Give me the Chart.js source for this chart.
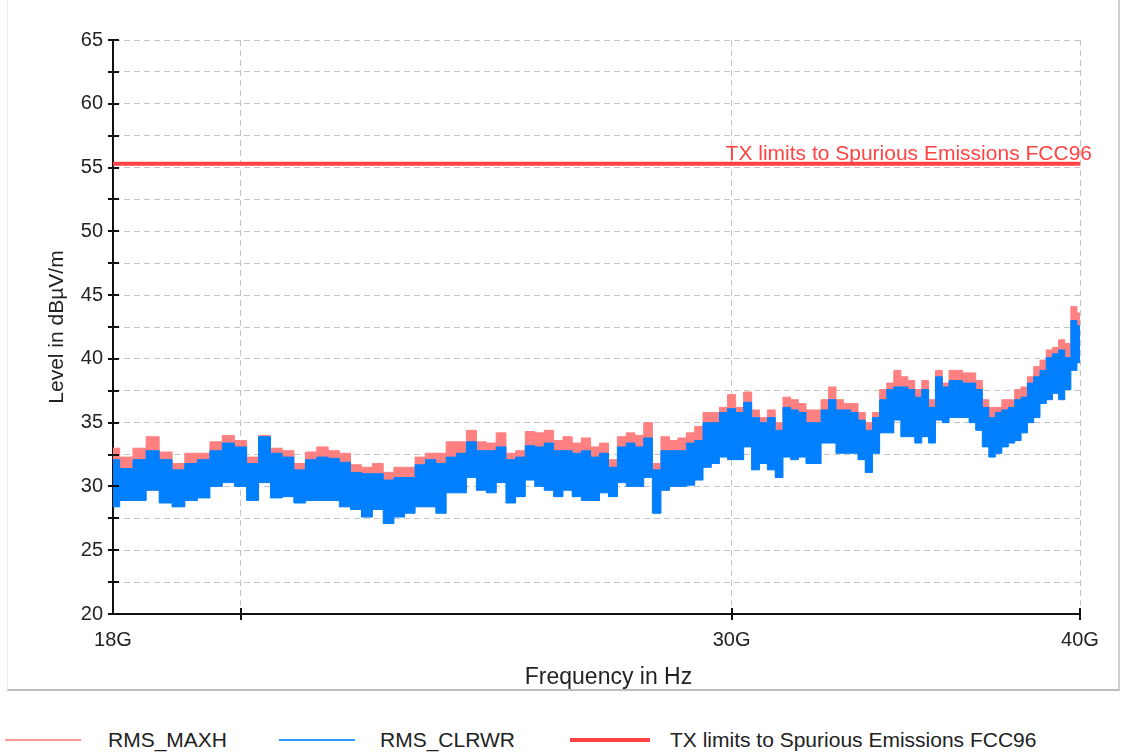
<!DOCTYPE html>
<html>
<head>
<meta charset="utf-8">
<script src="https://cdn.jsdelivr.net/npm/chart.js@4.4.0/dist/chart.umd.min.js"></script>
<style>
  body { margin: 0; background: #fff; width: 1121px; height: 756px; overflow: hidden;
         font-family: "Liberation Sans", Arial, sans-serif; }
  #panel { position: absolute; left: 7px; top: -4px; width: 1110px; height: 693px;
           border-left: 1px solid #ececec; border-right: 2px solid #cfcfcf; border-bottom: 2px solid #bdbdbd; }
  #wrap { position: absolute; left: 0; top: 0; width: 1121px; height: 690px; }
  #legend { position: absolute; left: 0; top: 722px; width: 1121px; height: 36px; }
  .ln { position: absolute; }
  .tx { position: absolute; top: 0; font-size: 21px; line-height: 36px; color: #222; white-space: nowrap; }
</style>
</head>
<body>
<div id="panel"></div>
<div id="wrap"><canvas id="emi-chart" width="1121" height="690"></canvas></div>
<div id="legend"></div>
<script>
// frequency in GHz, levels in dBµV/m
const freqGHz = [18.0, 18.2, 18.4, 18.6, 18.8, 19.0, 19.2, 19.4, 19.6, 19.8,
  20.0, 20.2, 20.4, 20.6, 20.8, 21.0, 21.2, 21.4, 21.6, 21.8,
  22.0, 22.2, 22.4, 22.6, 22.8, 23.0, 23.2, 23.4, 23.6, 23.8,
  24.0, 24.2, 24.4, 24.6, 24.8, 25.0, 25.2, 25.4, 25.6, 25.8,
  26.0, 26.2, 26.4, 26.6, 26.8, 27.0, 27.2, 27.4, 27.6, 27.8,
  28.0, 28.2, 28.4, 28.6, 28.8, 29.0, 29.2, 29.4, 29.6, 29.8,
  30.0, 30.2, 30.4, 30.6, 30.8, 31.0, 31.2, 31.4, 31.6, 31.8,
  32.0, 32.2, 32.4, 32.6, 32.8, 33.0, 33.2, 33.4, 33.6, 33.8,
  34.0, 34.2, 34.4, 34.6, 34.8, 35.0, 35.2, 35.4, 35.6, 35.8,
  36.0, 36.2, 36.4, 36.6, 36.8, 37.0, 37.2, 37.4, 37.6, 37.8,
  38.0, 38.2, 38.4, 38.6, 38.8, 39.0, 39.2, 39.4, 39.6, 39.8, 40.0];

const rmsMaxh = [33.0, 32.3, 33.0, 33.9, 32.7, 31.8, 32.6, 32.6, 33.5, 34.0,
  33.6, 32.3, 34.0, 33.0, 32.8, 31.8, 32.7, 33.1, 32.8, 32.6,
  31.7, 31.5, 31.8, 31.1, 31.5, 31.5, 32.3, 32.6, 32.6, 33.5,
  33.5, 34.4, 33.5, 33.4, 34.2, 32.6, 32.8, 34.3, 34.2, 34.4,
  33.6, 33.9, 33.4, 33.8, 33.1, 33.4, 32.1, 33.9, 34.2, 34.0,
  35.0, 31.8, 33.9, 33.6, 33.8, 34.2, 34.7, 35.8, 35.8, 36.2,
  37.2, 36.2, 37.4, 36.0, 35.4, 36.0, 35.0, 37.0, 36.8, 36.5,
  36.0, 36.0, 36.8, 37.8, 36.8, 36.5, 36.5, 35.8, 35.0, 35.8,
  37.6, 38.1, 39.1, 38.6, 38.3, 37.6, 38.3, 36.8, 39.1, 38.1,
  39.1, 39.1, 38.9, 38.9, 38.3, 36.8, 36.2, 36.2, 36.8, 36.8,
  37.6, 37.8, 38.6, 39.4, 39.9, 40.7, 40.9, 41.5, 41.2, 44.1, 43.6];

const rmsClrwrHigh = [32.1, 31.4, 32.1, 32.8, 32.1, 31.3, 31.8, 32.1, 32.8, 33.4,
  33.1, 31.8, 33.9, 32.6, 32.3, 31.3, 32.1, 32.3, 32.2, 31.9,
  31.1, 31.0, 31.0, 30.5, 30.7, 30.7, 31.7, 32.1, 31.8, 32.3,
  32.6, 33.5, 32.8, 32.8, 33.1, 32.1, 32.3, 33.2, 33.1, 33.4,
  32.8, 32.8, 32.6, 32.8, 32.3, 32.6, 31.5, 33.1, 33.4, 33.1,
  33.8, 31.3, 32.8, 32.8, 32.8, 33.4, 33.6, 35.0, 35.0, 35.8,
  36.1, 35.8, 36.6, 35.4, 35.0, 35.4, 34.4, 36.2, 36.0, 35.8,
  35.0, 35.0, 36.0, 36.8, 36.0, 36.0, 35.8, 35.2, 34.4, 35.4,
  36.8, 37.6, 37.8, 37.8, 37.6, 37.0, 37.6, 36.2, 38.6, 37.8,
  38.3, 38.3, 38.1, 38.1, 37.6, 36.2, 35.4, 35.8, 36.0, 36.2,
  36.8, 37.0, 38.1, 38.6, 39.1, 40.1, 40.4, 40.7, 40.1, 43.0, 42.6];

const rmsClrwrLow = [28.4, 28.9, 28.9, 29.7, 28.7, 28.4, 28.9, 29.1, 30.0, 30.3,
  30.0, 28.9, 30.3, 29.1, 29.2, 28.7, 28.9, 28.9, 28.9, 28.4,
  28.2, 27.6, 28.2, 27.1, 27.6, 27.9, 28.4, 28.4, 27.9, 29.5,
  29.5, 30.7, 29.7, 29.5, 30.3, 28.7, 29.2, 30.5, 30.0, 29.7,
  29.2, 29.7, 29.2, 28.9, 28.9, 29.5, 29.2, 30.3, 30.0, 30.0,
  30.7, 27.9, 29.7, 30.0, 30.0, 30.1, 30.5, 31.5, 31.8, 32.3,
  32.1, 32.1, 33.1, 31.3, 31.8, 31.3, 30.7, 32.3, 32.1, 32.3,
  31.8, 31.8, 33.4, 33.4, 32.6, 32.6, 32.6, 32.1, 31.1, 32.6,
  34.2, 34.2, 35.2, 33.9, 33.9, 33.4, 33.9, 33.4, 35.2, 35.0,
  35.4, 35.4, 35.4, 35.0, 34.4, 33.1, 32.3, 32.6, 33.1, 33.4,
  33.6, 34.2, 35.0, 35.4, 36.5, 36.8, 37.3, 36.8, 37.6, 39.1, 39.7];

const limitFreq = [18, 40];
const limitLevel = [55.3, 55.3];
const limitName = 'TX limits to Spurious Emissions FCC96';

const xTickValues = [18, 20, 30, 40];
const xTickLabels = ['18G', '', '30G', '40G'];
const yTickValues = [20, 22.5, 25, 27.5, 30, 32.5, 35, 37.5, 40, 42.5, 45, 47.5, 50, 52.5, 55, 57.5, 60, 62.5, 65];
const yTickLabels = ['20', '', '25', '', '30', '', '35', '', '40', '', '45', '', '50', '', '55', '', '60', '', '65'];
const xTitle = 'Frequency in Hz';

const pink = '#ff8080';
const blue = '#0080ff';
const red = '#ff4343';
const fontFamily = '"Liberation Sans", Arial, sans-serif';

const pts = (xs, ys) => xs.map((x, i) => ({ x: x, y: ys[i] }));

// black tick marks crossing both axes, plus the x axis title
const axisTicks = {
    id: 'axisTicks',
    afterDatasetsDraw(chart) {
        const { ctx, chartArea, scales: { x, y } } = chart;
        ctx.save();
        ctx.strokeStyle = '#111';
        ctx.lineWidth = 2;
        ctx.beginPath();
        yTickValues.forEach(v => {
            const py = Math.round(y.getPixelForValue(v));
            ctx.moveTo(chartArea.left - 5, py);
            ctx.lineTo(chartArea.left + 6, py);
        });
        xTickValues.slice(1).forEach(v => {
            const px = Math.round(x.getPixelForValue(v));
            ctx.moveTo(px, chartArea.bottom - 6);
            ctx.lineTo(px, chartArea.bottom + 6);
        });
        ctx.stroke();
        ctx.font = '23px ' + fontFamily;
        ctx.fillStyle = '#222';
        ctx.textAlign = 'center';
        ctx.textBaseline = 'middle';
        ctx.fillText(xTitle, (chartArea.left + chartArea.right) / 2 + 12, chartArea.bottom + 64);
        ctx.restore();
    }
};

// name of the limit line, written above its right end
const limitLabel = {
    id: 'limitLabel',
    afterDatasetsDraw(chart) {
        const { ctx, scales: { x, y } } = chart;
        ctx.save();
        ctx.font = '21px ' + fontFamily;
        ctx.fillStyle = red;
        ctx.textAlign = 'right';
        ctx.textBaseline = 'alphabetic';
        ctx.fillText(limitName, x.getPixelForValue(limitFreq[1]) + 12, y.getPixelForValue(limitLevel[1]) - 4);
        ctx.restore();
    }
};

const emi_chart = new Chart(
    document.getElementById('emi-chart').getContext('2d'), {
    type: 'line',
    data: {
        datasets: [{
            label: 'RMS_MAXH',
            data: pts(freqGHz, rmsMaxh),
            borderColor: pink,
            backgroundColor: pink,
            borderWidth: 1,
            stepped: 'middle',
            fill: 3,
            order: 3,
        },
        {
            label: 'RMS_CLRWR',
            data: pts(freqGHz, rmsClrwrHigh),
            borderColor: blue,
            backgroundColor: blue,
            borderWidth: 1,
            stepped: 'middle',
            fill: 3,
            order: 1,
        },
        {
            label: limitName,
            data: pts(limitFreq, limitLevel),
            borderColor: red,
            borderWidth: 4,
            fill: false,
            order: 0,
        },
        {
            // lower edge of the RMS_CLRWR trace
            label: '',
            data: pts(freqGHz, rmsClrwrLow),
            borderColor: blue,
            borderWidth: 1,
            stepped: 'middle',
            fill: false,
            order: 2,
        }]
    },
    options: {
        responsive: false,
        animation: false,
        layout: { padding: { left: 0, top: 40, right: 41, bottom: 0 } },
        elements: { point: { radius: 0 } },
        plugins: {
            legend: { display: false },
            tooltip: { enabled: false }
        },
        scales: {
            x: {
                type: 'logarithmic',
                min: 18,
                max: 40,
                afterBuildTicks: (s) => { s.ticks = xTickValues.map(v => ({ value: v })); },
                afterFit: (s) => { s.height = 76; },
                ticks: {
                    autoSkip: false,
                    maxRotation: 0,
                    padding: 14,
                    color: '#222',
                    font: { family: fontFamily, size: 20 },
                    callback: (v, i) => xTickLabels[i],
                },
                grid: { color: '#c4c4c4', lineWidth: 1, drawTicks: false },
                border: { display: true, color: '#111', width: 2, dash: [6, 4] },
                title: { display: false }
            },
            y: {
                min: 20,
                max: 65,
                afterBuildTicks: (s) => { s.ticks = yTickValues.map(v => ({ value: v })); },
                afterFit: (s) => { s.width = 113; },
                ticks: {
                    autoSkip: false,
                    padding: 10,
                    color: '#222',
                    font: { family: fontFamily, size: 20 },
                    callback: (v, i) => yTickLabels[i],
                },
                grid: { color: '#c4c4c4', lineWidth: 1, drawTicks: false },
                border: { display: true, color: '#111', width: 2, dash: [6, 4] },
                title: {
                    display: true,
                    text: 'Level in dBµV/m',
                    color: '#222',
                    font: { family: fontFamily, size: 21 },
                    padding: { top: 45, bottom: 0 },
                }
            }
        }
    },
    plugins: [axisTicks, limitLabel]
});

// legend under the panel, built from the datasets
const legendPos = [
    { line: 5, width: 76, text: 108 },
    { line: 279, width: 76, text: 380 },
    { line: 570, width: 80, text: 670 },
];
const legend = document.getElementById('legend');
emi_chart.data.datasets.filter(d => d.label).forEach((d, i) => {
    const p = legendPos[i];
    const ln = document.createElement('div');
    ln.className = 'ln';
    const h = d.borderWidth > 2 ? 4 : 2;
    ln.style.cssText = `left:${p.line}px;width:${p.width}px;top:${18 - h / 2}px;height:${h}px;background:${d.borderColor};opacity:${d.borderWidth > 2 ? 1 : 0.8}`;
    const tx = document.createElement('div');
    tx.className = 'tx';
    tx.style.left = p.text + 'px';
    tx.textContent = d.label;
    legend.appendChild(ln);
    legend.appendChild(tx);
});
</script>
</body>
</html>
